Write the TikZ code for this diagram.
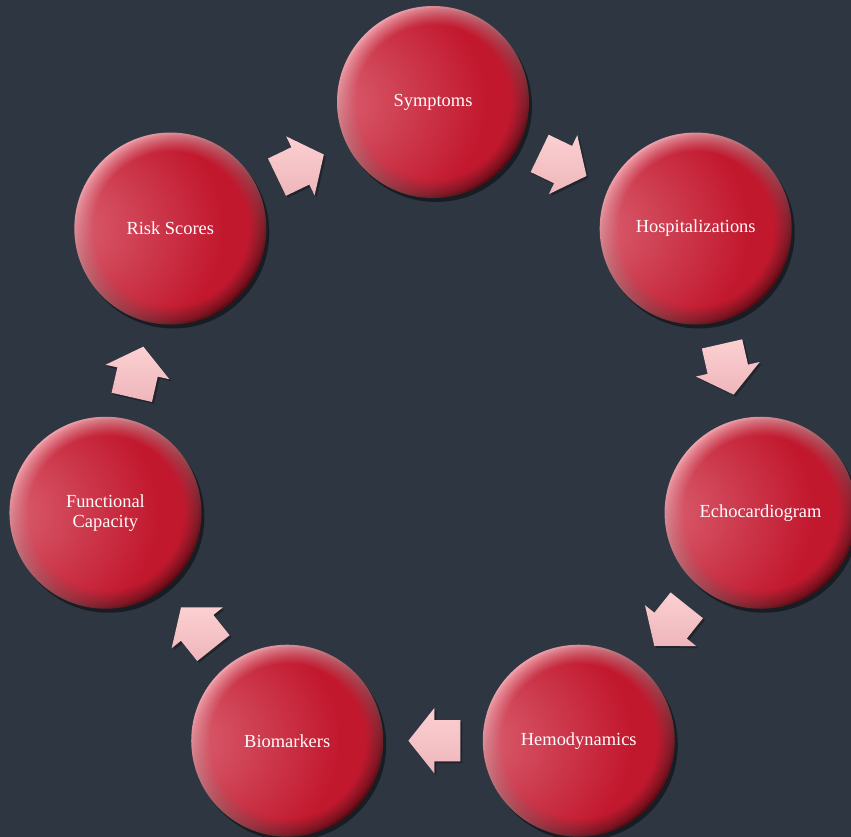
\documentclass[tikz,border=0pt]{standalone}
\usepackage{fontspec}
\setmainfont{Liberation Serif}
\usepackage{tikz}
\usetikzlibrary{calc,shapes.arrows,shadows,fadings}

\definecolor{bgslate}{RGB}{46,54,65}
\definecolor{ballmain}{RGB}{194,24,46}
\definecolor{ballhi}{RGB}{218,98,114}
\definecolor{rimhi}{RGB}{240,160,170}
\definecolor{rimlo}{RGB}{90,8,18}
\definecolor{arrhi}{RGB}{252,208,210}
\definecolor{arrlo}{RGB}{238,182,187}

\pgfdeclareradialshading{redball}{\pgfpoint{-20bp}{20bp}}{%
  color(0bp)=(ballhi); color(30bp)=(ballmain); color(50bp)=(ballmain); color(70bp)=(ballmain!88!black)}

\tikzset{
  ball/.style={circle, minimum size=192bp, inner sep=0pt, text=white!95!pink, align=center,
    font=\fontsize{18.5}{20}\selectfont,
    top color=rimhi, bottom color=rimlo, shading angle=45,
    drop shadow={fill=black, opacity=.45, shadow xshift=3bp, shadow yshift=-4bp},
    path picture={\shade[shading=redball, path fading=circle with fuzzy edge 20 percent]
      (path picture bounding box.center) circle (94bp);}},
  blockarrow/.style={single arrow, minimum height=52bp, minimum width=65bp,
    single arrow head extend=12bp, single arrow tip angle=103,
    inner xsep=0pt, inner ysep=20.5bp,
    top color=arrhi, bottom color=arrlo,
    drop shadow={fill=black, opacity=.3, shadow xshift=2bp, shadow yshift=-2bp}}
}

\begin{document}
\begin{tikzpicture}[x=1bp,y=1bp]
\clip (0,0) rectangle (851,837);
\fill[bgslate] (0,0) rectangle (851,837);
\coordinate (ctr) at (433,399);
% the seven steps, clockwise from the top
\foreach \name/\txt [count=\i from 0] in {sym/Symptoms, hosp/Hospitalizations,
    echo/Echocardiogram, hemo/Hemodynamics, bio/Biomarkers,
    func/{Functional\\Capacity}, risk/{Risk Scores}}{
	\node[ball] (\name) at ($(ctr)+({90-360/7*\i}:336)$) {\txt};
	}
\foreach \a/\b [count=\i] in {sym/hosp, hosp/echo, echo/hemo, hemo/bio,
    bio/func, func/risk, risk/sym}{
	\path (\a.center) -- node[blockarrow, sloped, allow upside down, pos=.467] (ar\i) {} (\b.center);
	}
\end{tikzpicture}
\end{document}
